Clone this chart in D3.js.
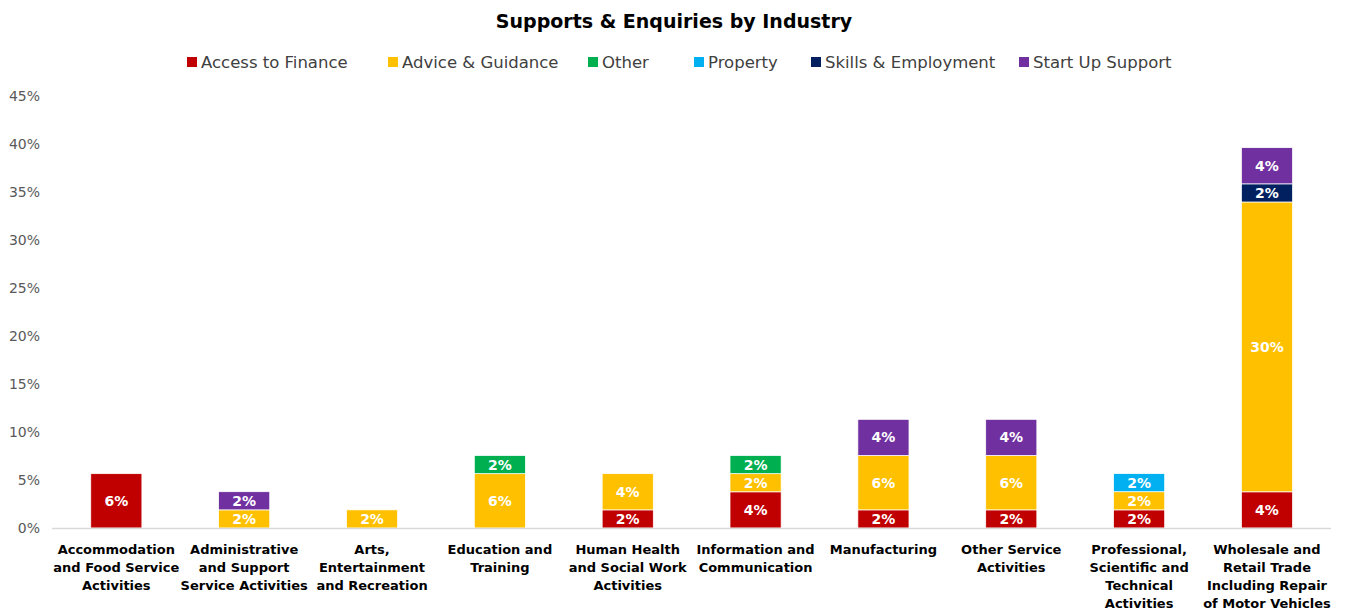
<!DOCTYPE html>
<html>
<head>
<meta charset="utf-8">
<script src="https://cdn.jsdelivr.net/npm/d3@7"></script>
<style>
  html, body { margin: 0; padding: 0; background: #fff; }
  svg { display: block; }
  text { font-family: "Century Gothic", "DejaVu Sans", sans-serif; }
</style>
</head>
<body>
<svg id="chart" width="1346" height="611"></svg>
<script>
const title = "Supports & Enquiries by Industry";
const categories = [
  ["Accommodation", "and Food Service", "Activities"],
  ["Administrative", "and Support", "Service Activities"],
  ["Arts,", "Entertainment", "and Recreation"],
  ["Education and", "Training"],
  ["Human Health", "and Social Work", "Activities"],
  ["Information and", "Communication"],
  ["Manufacturing"],
  ["Other Service", "Activities"],
  ["Professional,", "Scientific and", "Technical", "Activities"],
  ["Wholesale and", "Retail Trade", "Including Repair", "of Motor Vehicles"]
];
const seriesNames = ["Access to Finance", "Advice & Guidance", "Other", "Property", "Skills & Employment", "Start Up Support"];
const seriesColors = ["#C00000", "#FFC000", "#00B050", "#00B0F0", "#002060", "#7030A0"];
// values in percent
const accessToFinance = [5.66, 0, 0, 0, 1.89, 3.77, 1.89, 1.89, 1.89, 3.77];
const adviceGuidance  = [0, 1.89, 1.89, 5.66, 3.77, 1.89, 5.66, 5.66, 1.89, 30.19];
const other           = [0, 0, 0, 1.89, 0, 1.89, 0, 0, 0, 0];
const property        = [0, 0, 0, 0, 0, 0, 0, 0, 1.89, 0];
const skillsEmployment= [0, 0, 0, 0, 0, 0, 0, 0, 0, 1.89];
const startUpSupport  = [0, 1.89, 0, 0, 0, 0, 3.77, 3.77, 0, 3.77];
const yTicks = [0, 5, 10, 15, 20, 25, 30, 35, 40, 45];

const seriesValues = [accessToFinance, adviceGuidance, other, property, skillsEmployment, startUpSupport];
const rows = categories.map((c, i) => {
  const r = { key: i };
  seriesNames.forEach((s, j) => r[s] = seriesValues[j][i]);
  return r;
});

const svg = d3.select("#chart");
const x = d3.scaleBand().domain(d3.range(categories.length)).range([52.4, 1330.9]).paddingInner(0.6).paddingOuter(0.3);
const y = d3.scaleLinear().domain([0, 45]).range([528, 96]);

// title
svg.append("text").attr("x", 674).attr("y", 28).attr("text-anchor", "middle")
  .attr("font-size", 19).attr("font-weight", "bold").attr("fill", "#000").text(title);

// legend
const legendX = [187, 388, 588, 694, 811, 1019];
const lg = svg.append("g");
seriesNames.forEach((s, i) => {
  const g = lg.append("g").attr("transform", `translate(${legendX[i]},62)`);
  g.append("rect").attr("x", 0).attr("y", -5).attr("width", 10).attr("height", 10).attr("fill", seriesColors[i]);
  g.append("text").attr("x", 14).attr("y", 0).attr("dy", "0.35em").attr("font-size", 16.5)
    .attr("fill", "#404040").text(s);
});

// y axis labels
const yAxis = d3.axisLeft(y).tickValues(yTicks).tickFormat(d => d + "%").tickSize(0).tickPadding(0);
const ya = svg.append("g").attr("transform", "translate(40,0)").call(yAxis);
ya.select(".domain").remove();
ya.selectAll("text").attr("font-size", 14).attr("fill", "#595959")
  .style("font-family", '"Century Gothic", "DejaVu Sans", sans-serif');

// bars
const stack = d3.stack().keys(seriesNames);
const stacked = stack(rows);
const layers = svg.append("g").selectAll("g").data(stacked).join("g")
  .attr("fill", (d, i) => seriesColors[i]);
layers.selectAll("rect").data(d => d.filter(p => p[1] - p[0] > 0)).join("rect")
  .attr("x", d => x(d.data.key)).attr("width", x.bandwidth())
  .attr("y", d => y(d[1])).attr("height", d => y(d[0]) - y(d[1]))
  .attr("stroke", "#fff").attr("stroke-width", 0.75);

// data labels
layers.each(function(layer) {
  d3.select(this).selectAll("text").data(layer.filter(p => p[1] - p[0] > 0)).join("text")
    .attr("x", d => x(d.data.key) + x.bandwidth() / 2)
    .attr("y", d => (y(d[0]) + y(d[1])) / 2)
    .attr("dy", "0.36em").attr("text-anchor", "middle")
    .attr("font-size", 14).attr("font-weight", "bold").attr("fill", "#fff")
    .text(d => Math.round(d[1] - d[0]) + "%");
});

// x axis line
svg.append("line").attr("x1", 52).attr("x2", 1331).attr("y1", 528.5).attr("y2", 528.5)
  .attr("stroke", "#d9d9d9").attr("stroke-width", 1.5);

// category labels
const xl = svg.append("g");
categories.forEach((lines, i) => {
  const t = xl.append("text").attr("x", x(i) + x.bandwidth() / 2).attr("y", 549)
    .attr("text-anchor", "middle").attr("font-size", 13).attr("font-weight", "bold").attr("fill", "#000");
  lines.forEach((l, k) => {
    t.append("tspan").attr("x", x(i) + x.bandwidth() / 2).attr("y", 549 + k * 18).attr("dy", "0.35em").text(l);
  });
});
</script>
</body>
</html>
